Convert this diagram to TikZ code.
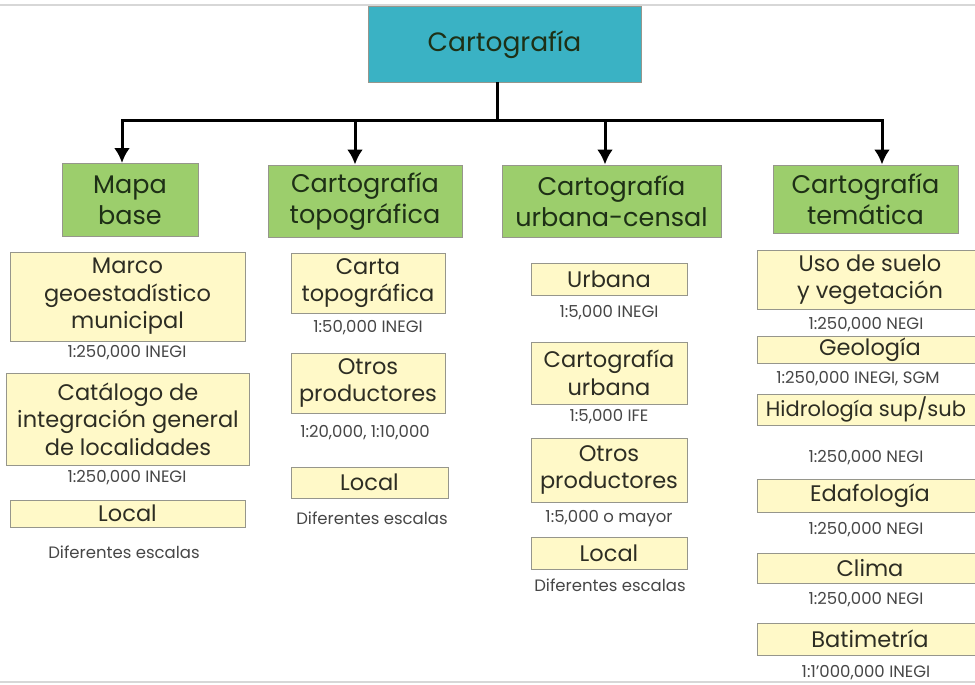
\documentclass[tikz,border=0pt]{standalone}
\usepackage{fontspec}
\setmainfont{Poppins}
\usetikzlibrary{arrows.meta,positioning}
\definecolor{azulraiz}{RGB}{58,178,196}
\definecolor{verdegrupo}{RGB}{156,206,108}
\definecolor{amarillohoja}{RGB}{255,249,200}
\definecolor{bordegris}{RGB}{150,150,140}
\definecolor{textogrupo}{RGB}{30,48,22}
\definecolor{textohoja}{RGB}{45,45,35}
\definecolor{textoescala}{RGB}{70,70,70}
\definecolor{rayagris}{RGB}{215,215,215}
\tikzset{
    x=1pt, y=-1pt,
    caja/.style ={draw=bordegris, line width=1pt, inner sep=0pt, align=center},
    tam/.style 2 args = {minimum width=#1, minimum height=#2},
    raiz/.style = {caja, fill=azulraiz, text=textogrupo, font=\fontsize{26.5}{30}\selectfont},
    grupo/.style = {caja, fill=verdegrupo, text=textogrupo, font=\fontsize{25.5}{31}\selectfont},
    hoja/.style = {caja, fill=amarillohoja, text=textohoja, font=\fontsize{22.5}{27.5}\selectfont},
    escala/.style = {inner sep=0pt, text=textoescala, font=\fontsize{16.5}{18}\selectfont},
    linea/.style = {line width=3pt, line cap=rect},
    flecha/.style = {-{Latex[length=15pt,width=16pt]}, line width=3pt}
}
\begin{document}
\begin{tikzpicture}
    \useasboundingbox (0,0) rectangle (975,685);
    \draw[rayagris, line width=1.5pt] (0,5) -- (975,5);
    \draw[rayagris, line width=1.5pt] (0,682) -- (975,682);

    % raiz y grupos
    \node[raiz, tam={273}{76}] (raiz) at (504.5,45) {Cartografía};
    \node[grupo, tam={136}{73}] (mapa) at (130,200) {Mapa\\base};
    \node[grupo, tam={194}{72}] (topo) at (365,201) {Cartografía\\topográfica};
    \node[grupo, tam={219}{72}] (urbana) at (611.5,201) {Cartografía\\urbana-censal};
    \node[grupo, tam={185}{68}] (tematica) at (865.5,199) {Cartografía\\temática};

    % conectores
    \coordinate (tronco) at (497,120);
    \coordinate (b1) at (122,120);
    \coordinate (b2) at (355,120);
    \coordinate (b3) at (605,120);
    \coordinate (b4) at (882,120);
    \draw[linea] (raiz.south -| tronco) -- (tronco);
    \draw[linea] (b1) -- (b4);
    \foreach \b/\g in {b1/mapa, b2/topo, b3/urbana, b4/tematica}
        \draw[flecha] (\b) -- (\b |- \g.north);

    % mapa base
    \node[hoja, tam={235}{89}] (marco) at (127.5,296.5) {Marco\\geoestadístico\\municipal};
    \node[escala] (marcoesc) at (127,353) {1:250,000 INEGI};
    \node[hoja, tam={243}{92}] (catalogo) at (128,419) {Catálogo de\\integración general\\de localidades};
    \node[escala] (catalogoesc) at (127,478) {1:250,000 INEGI};
    \node[hoja, tam={235}{27}] (localmapa) at (127.5,513.5) {Local};
    \node[escala] (localmapaesc) at (124,552) {Diferentes escalas};

    % cartografia topografica
    \node[hoja, tam={154}{60}] (carta) at (368,283) {Carta\\topográfica};
    \node[escala] (cartaesc) at (368,328) {1:50,000 INEGI};
    \node[hoja, tam={154}{60}] (otrostopo) at (368,383) {Otros\\productores};
    \node[escala] (otrostopoesc) at (365,433) {1:20,000, 1:10,000};
    \node[hoja, tam={157}{31}] (localtopo) at (369.5,482.5) {Local};
    \node[escala] (localtopoesc) at (372,518) {Diferentes escalas};

    % cartografia urbana-censal
    \node[hoja, tam={156}{32}] (urb) at (609,279) {Urbana};
    \node[escala] (urbesc) at (609,313) {1:5,000 INEGI};
    \node[hoja, tam={156}{62}] (cartourb) at (609,373) {Cartografía\\urbana};
    \node[escala] (cartourbesc) at (609,417) {1:5,000 IFE};
    \node[hoja, tam={156}{64}] (otrosurb) at (609,470) {Otros\\productores};
    \node[escala] (otrosurbesc) at (609,519) {1:5,000 o mayor};
    \node[hoja, tam={156}{32}] (localurb) at (609,553) {Local};
    \node[escala] (localurbesc) at (610,585) {Diferentes escalas};

    % cartografia tematica
    \node[hoja, tam={226}{59}] (uso) at (870,279.5) {Uso de suelo\\y vegetación};
    \node[escala] (usoesc) at (866,325) {1:250,000 NEGI};
    \node[hoja, tam={226}{27}] (geo) at (870,350) {Geología};
    \node[escala] (geoesc) at (858,379) {1:250,000 INEGI, SGM};
    \node[hoja, tam={226}{31}] (hidro) at (870,409.5) {};
    \node[inner sep=0pt, text=textohoja, font=\fontsize{21}{24}\selectfont] (hidrotexto) at (hidro.center -| 866,0) {Hidrología sup/sub};
    \node[escala] (hidroesc) at (866,458) {1:250,000 NEGI};
    \node[hoja, tam={226}{33}] (edafo) at (870,495.5) {Edafología};
    \node[escala] (edafoesc) at (866,530) {1:250,000 NEGI};
    \node[hoja, tam={226}{30}] (clima) at (870,568) {Clima};
    \node[escala] (climaesc) at (866,600) {1:250,000 NEGI};
    \node[hoja, tam={226}{32}] (bati) at (870,639) {Batimetría};
    \node[escala] (batiesc) at (866,673) {1:1'000,000 INEGI};
\end{tikzpicture}
\end{document}
